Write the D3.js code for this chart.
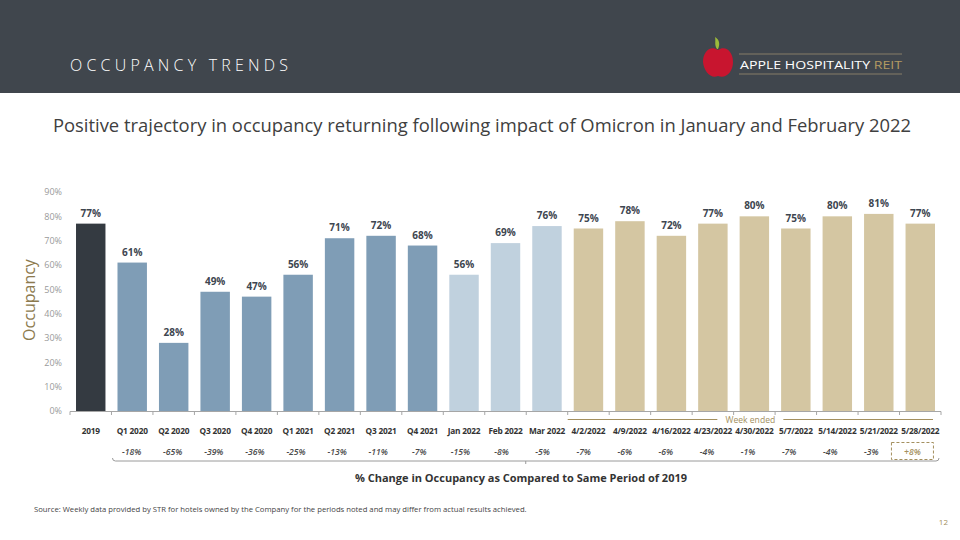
<!DOCTYPE html>
<html>
<head>
<meta charset="utf-8">
<script src="https://cdn.jsdelivr.net/npm/d3@7"></script>
<style>
  body { margin: 0; background: #fff; }
  svg { display: block; font-family: "Open Sans", "Noto Sans", sans-serif; }
</style>
</head>
<body>
<div id="visualization"></div>
<script>
// chart data
var categories = ["2019", "Q1 2020", "Q2 2020", "Q3 2020", "Q4 2020", "Q1 2021", "Q2 2021", "Q3 2021", "Q4 2021",
  "Jan 2022", "Feb 2022", "Mar 2022", "4/2/2022", "4/9/2022", "4/16/2022", "4/23/2022", "4/30/2022",
  "5/7/2022", "5/14/2022", "5/21/2022", "5/28/2022"];
var occupancy = [77, 61, 28, 49, 47, 56, 71, 72, 68, 56, 69, 76, 75, 78, 72, 77, 80, 75, 80, 81, 77];
var changeVs2019 = ["", "-18%", "-65%", "-39%", "-36%", "-25%", "-13%", "-11%", "-7%", "-15%", "-8%", "-5%",
  "-7%", "-6%", "-6%", "-4%", "-1%", "-7%", "-4%", "-3%", "+8%"];
var groups = ["base", "q", "q", "q", "q", "q", "q", "q", "q", "m", "m", "m",
  "w", "w", "w", "w", "w", "w", "w", "w", "w"];
var yTicks = [0, 10, 20, 30, 40, 50, 60, 70, 80, 90];

var colors = {base: "#343a41", q: "#7f9db6", m: "#c0d1de", w: "#d4c6a2"};
var gold = "#a38f5e";

var W = 960, H = 540;
var svg = d3.select("#visualization").append("svg")
    .attr("width", W)
    .attr("height", H);

// header band
svg.append("rect").attr("x", 0).attr("y", 0).attr("width", W).attr("height", 93).attr("fill", "#40464d");
svg.append("text")
    .attr("x", 70).attr("y", 71)
    .attr("fill", "#ffffff")
    .style("font-size", "16px")
    .style("font-weight", 300)
    .style("letter-spacing", "4.2px")
    .text("OCCUPANCY TRENDS");

// logo
var logo = svg.append("g");
logo.append("path")
    .attr("d", "M718,50 C710,45 703,52 703,62 C704,72 711,79 718,76 C726,79 733,72 733,62 C733,52 726,45 718,50 Z")
    .attr("fill", "#c8152f");
logo.append("path")
    .attr("d", "M717,49 C714,45 716,41 715,37 C720,40 720,45 718,49 Z")
    .attr("fill", "#9dbb3a");
logo.append("line").attr("x1", 739).attr("x2", 902).attr("y1", 54).attr("y2", 54).attr("stroke", "#6f6b5f").attr("stroke-width", 1.5);
logo.append("line").attr("x1", 739).attr("x2", 902).attr("y1", 74).attr("y2", 74).attr("stroke", "#6f6b5f").attr("stroke-width", 1.5);
var lt = logo.append("text").attr("x", 740).attr("y", 68.5)
    .attr("textLength", 162).attr("lengthAdjust", "spacingAndGlyphs")
    .style("font-size", "11.5px");
lt.append("tspan").attr("fill", "#ffffff").text("APPLE HOSPITALITY ");
lt.append("tspan").attr("fill", "#b39a62").text("REIT");

// title
svg.append("text")
    .attr("x", 482).attr("y", 132)
    .attr("text-anchor", "middle")
    .attr("fill", "#404040")
    .style("font-size", "18.4px")
    .text("Positive trajectory in occupancy returning following impact of Omicron in January and February 2022");

// scales
var x = d3.scaleBand()
    .domain(categories)
    .range([70, 941])
    .paddingInner(0.29)
    .paddingOuter(0.145);
var xc = d3.scaleBand()
    .domain(categories)
    .range([70, 933]);
var y = d3.scaleLinear()
    .domain([0, 90])
    .range([411, 192]);

// y axis (labels only)
var yAxis = svg.append("g")
    .attr("transform", "translate(62,0)")
    .call(d3.axisLeft(y).tickValues(yTicks).tickSize(0).tickPadding(0).tickFormat(function(d){ return d + "%"; }));
yAxis.select(".domain").remove();
yAxis.selectAll("text").attr("fill", "#9a9a9a").style("font-size", "9px").style("font-family", "'Open Sans', sans-serif");

svg.append("text")
    .attr("transform", "translate(35,300) rotate(-90)")
    .attr("text-anchor", "middle")
    .attr("fill", "#8c7a4e")
    .style("font-size", "16px")
    .text("Occupancy");

// bars
svg.selectAll(".bar")
    .data(categories)
    .enter().append("rect")
    .attr("class", "bar")
    .attr("x", function(d) { return x(d); })
    .attr("width", x.bandwidth())
    .attr("y", function(d, i) { return y(occupancy[i]); })
    .attr("height", function(d, i) { return y(0) - y(occupancy[i]); })
    .attr("fill", function(d, i) { return colors[groups[i]]; });

svg.selectAll(".val")
    .data(categories)
    .enter().append("text")
    .attr("class", "val")
    .attr("x", function(d) { return x(d) + x.bandwidth() / 2; })
    .attr("y", function(d, i) { return y(occupancy[i]) - 7; })
    .attr("text-anchor", "middle")
    .attr("fill", "#3e4650")
    .style("font-size", "10px")
    .style("font-weight", 700)
    .text(function(d, i) { return occupancy[i] + "%"; });

// x axis with ticks at band boundaries
var step = x.step();
var xStart = 70, xEnd = 941;
svg.append("line").attr("x1", xStart).attr("x2", xEnd).attr("y1", 411.5).attr("y2", 411.5)
    .attr("stroke", "#a6a6a6").attr("stroke-width", 1);
svg.selectAll(".xtick")
    .data(d3.range(categories.length + 1))
    .enter().append("line")
    .attr("class", "xtick")
    .attr("x1", function(i) { return xStart + i * step; })
    .attr("x2", function(i) { return xStart + i * step; })
    .attr("y1", 411.5).attr("y2", 415)
    .attr("stroke", "#a6a6a6");

svg.selectAll(".cat")
    .data(categories)
    .enter().append("text")
    .attr("class", "cat")
    .attr("x", function(d) { return x(d) + x.bandwidth() / 2; })
    .attr("y", 434)
    .attr("text-anchor", "middle")
    .attr("fill", "#333333")
    .style("font-size", "8.3px")
    .style("font-weight", 700)
    .style("letter-spacing", "-0.2px")
    .text(function(d) { return d; });

svg.selectAll(".chg")
    .data(categories)
    .enter().append("text")
    .attr("class", "chg")
    .attr("x", function(d) { return xc(d) + xc.bandwidth() / 2; })
    .attr("y", 455)
    .attr("text-anchor", "middle")
    .attr("fill", function(d, i) { return changeVs2019[i].charAt(0) === "+" ? gold : "#4a4a4a"; })
    .style("font-size", "8.6px")
    .style("font-style", "italic")
    .style("font-weight", 600)
    .text(function(d, i) { return changeVs2019[i]; });

// dashed box round the last change
var last = categories[categories.length - 1];
var lastC = xc(last) + xc.bandwidth() / 2;
svg.append("rect")
    .attr("x", lastC - 21).attr("y", 442.5)
    .attr("width", 42).attr("height", 17)
    .attr("fill", "none")
    .attr("stroke", gold)
    .attr("stroke-dasharray", "3,2");

// bracket under the change row
var bl = xStart + step + 1, br = xEnd - 2, by = 461;
svg.append("path")
    .attr("d", "M" + bl + "," + (by - 3) + " Q" + bl + "," + by + " " + (bl + 3) + "," + by +
      " L" + (br - 3) + "," + by + " Q" + br + "," + by + " " + br + "," + (by - 3))
    .attr("fill", "none")
    .attr("stroke", "#9a9a9a");
svg.append("line").attr("x1", (bl + br) / 2).attr("x2", (bl + br) / 2).attr("y1", by).attr("y2", by + 3)
    .attr("stroke", "#9a9a9a");

// "Week ended" bracket
var wl = xStart + 12 * step, wr = xEnd - 8, wy = 419.5, wc = (wl + wr) / 2;
svg.append("line").attr("x1", wl).attr("x2", wc - 33).attr("y1", wy).attr("y2", wy).attr("stroke", gold);
svg.append("line").attr("x1", wc + 33).attr("x2", wr).attr("y1", wy).attr("y2", wy).attr("stroke", gold);
svg.append("text")
    .attr("x", wc).attr("y", wy + 3)
    .attr("text-anchor", "middle")
    .attr("fill", gold)
    .style("font-size", "8.6px")
    .text("Week ended");

svg.append("text")
    .attr("x", 521).attr("y", 482)
    .attr("text-anchor", "middle")
    .attr("fill", "#333333")
    .style("font-size", "11px")
    .style("font-weight", 700)
    .text("% Change in Occupancy as Compared to Same Period of 2019");

// footer
svg.append("text")
    .attr("x", 34).attr("y", 512)
    .attr("fill", "#444444")
    .style("font-size", "7.7px")
    .text("Source:  Weekly data provided by STR for hotels owned by the Company for the periods noted and may differ from actual results achieved.");
svg.append("text")
    .attr("x", 948).attr("y", 525)
    .attr("text-anchor", "end")
    .attr("fill", gold)
    .style("font-size", "8px")
    .text("12");
</script>
</body>
</html>
